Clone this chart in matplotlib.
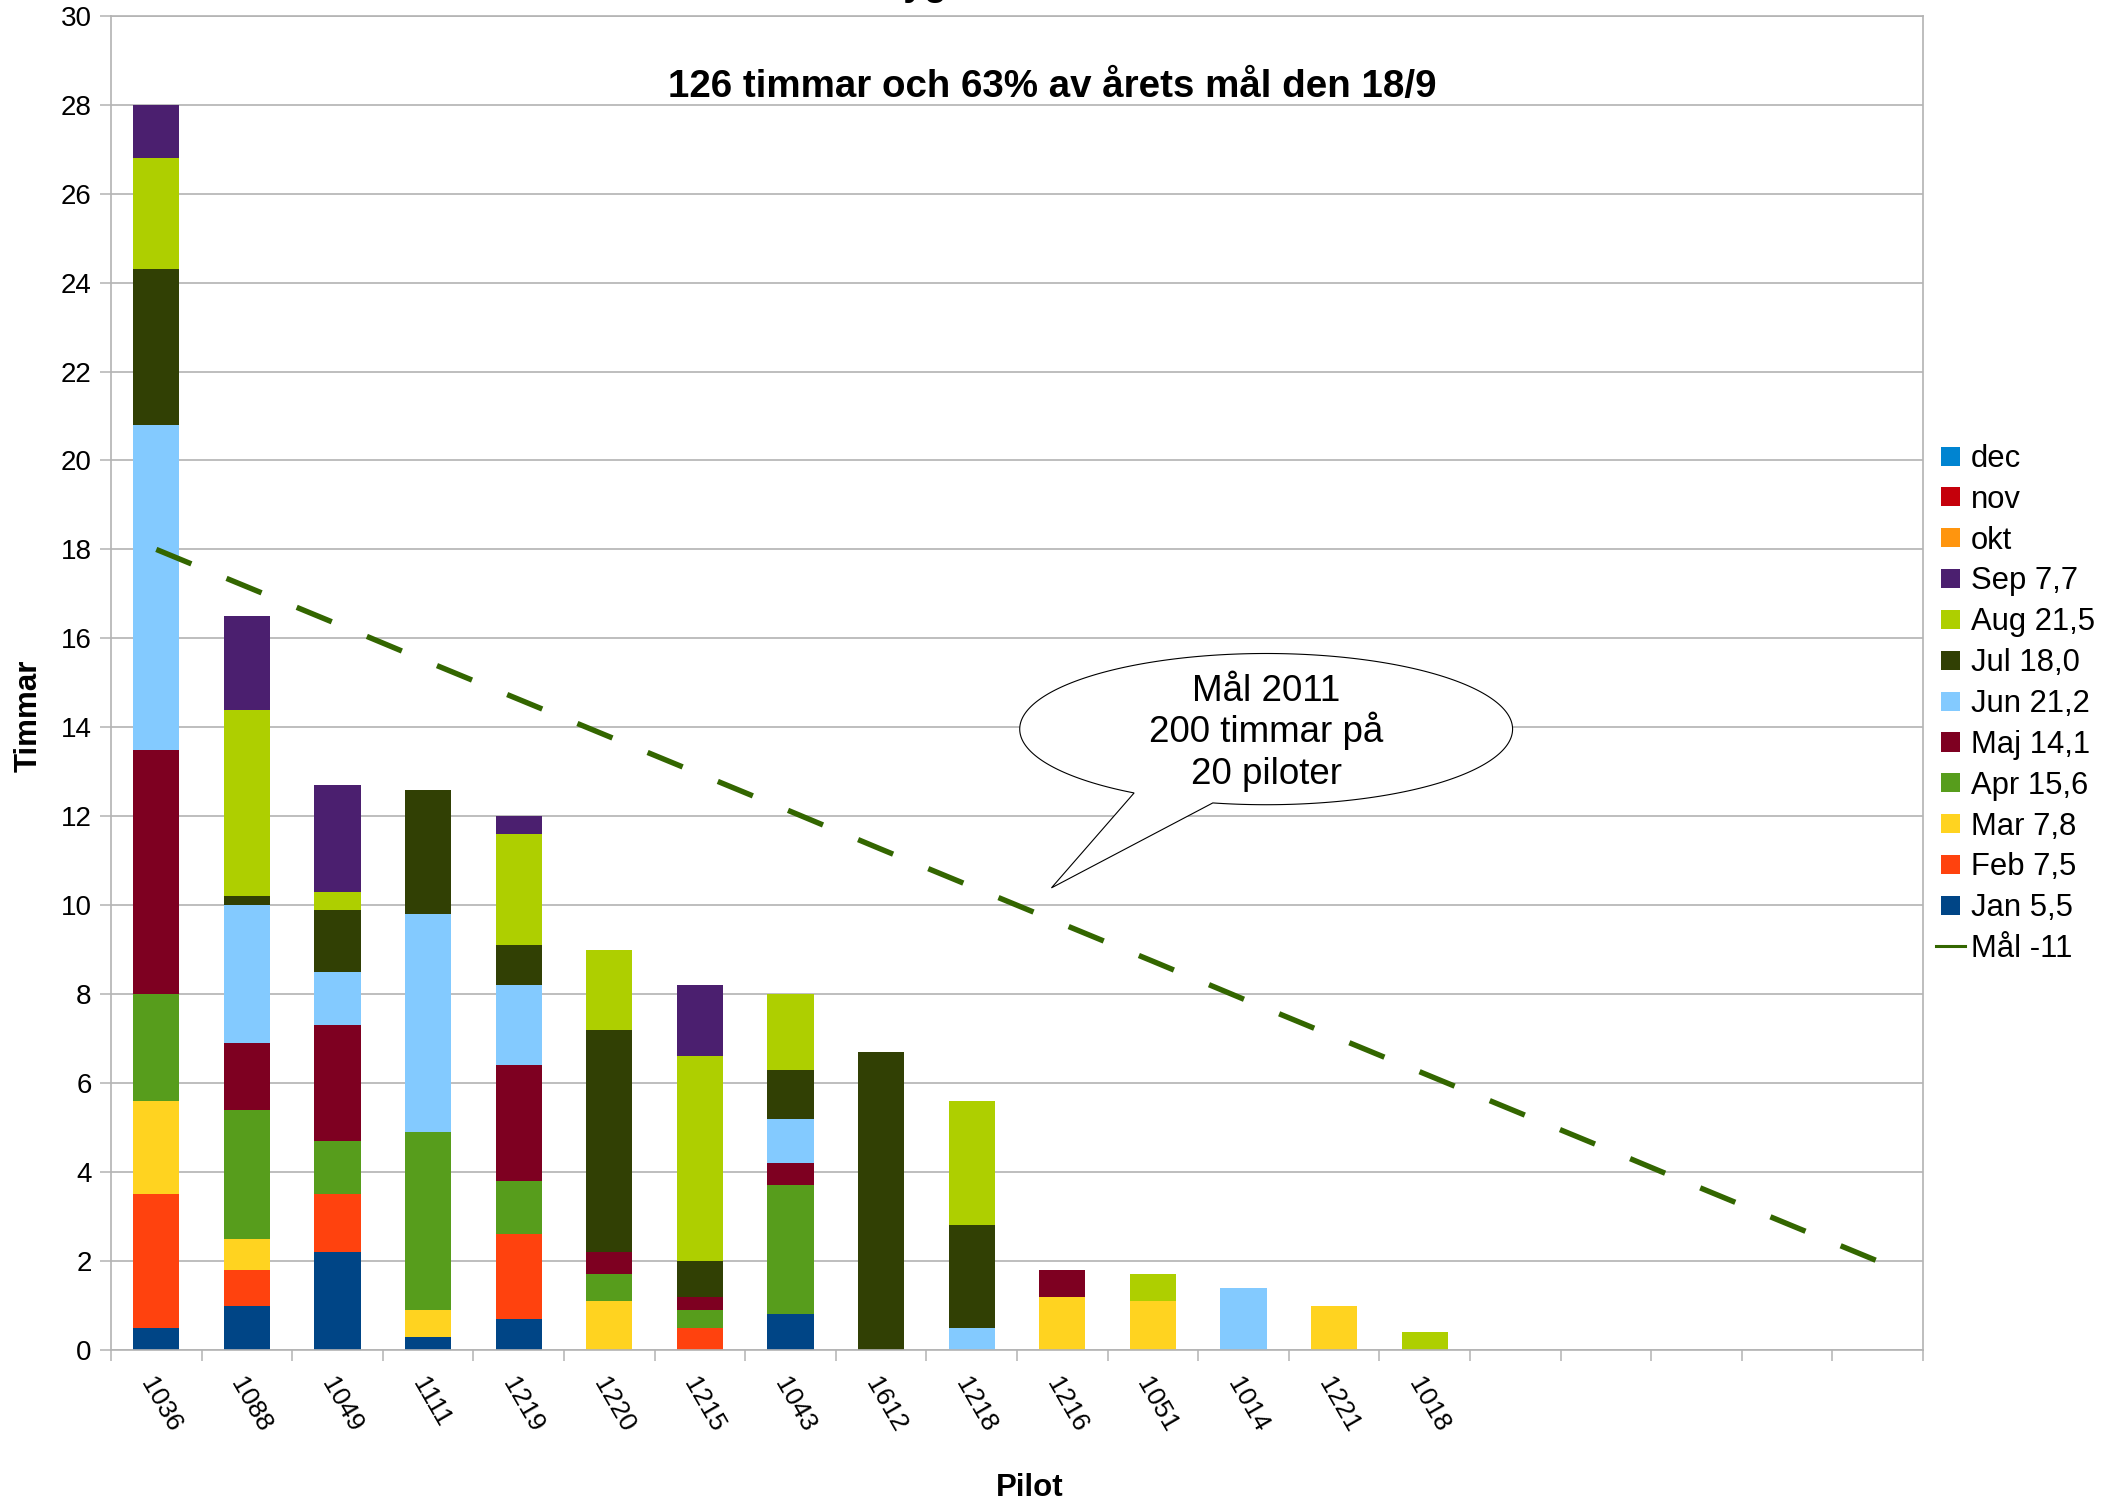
import numpy as np
import matplotlib
matplotlib.use("Agg")
import matplotlib.pyplot as plt
from matplotlib.patches import Polygon, Rectangle
from matplotlib.lines import Line2D
from matplotlib.legend_handler import HandlerPatch

plt.rcParams['font.family'] = ['Liberation Sans', 'DejaVu Sans']

# ---------------- data ----------------
pilots = ["1036", "1088", "1049", "1111", "1219", "1220", "1215", "1043", "1612", "1218",
          "1216", "1051", "1014", "1221", "1018", "", "", "", "", ""]

jan = [0.5, 1.0, 2.2, 0.3, 0.7, 0.0, 0.0, 0.8, 0.0, 0.0, 0.0, 0.0, 0.0, 0.0, 0.0, 0, 0, 0, 0, 0]
feb = [3.0, 0.8, 1.3, 0.0, 1.9, 0.0, 0.5, 0.0, 0.0, 0.0, 0.0, 0.0, 0.0, 0.0, 0.0, 0, 0, 0, 0, 0]
mar = [2.1, 0.7, 0.0, 0.6, 0.0, 1.1, 0.0, 0.0, 0.0, 0.0, 1.2, 1.1, 0.0, 1.0, 0.0, 0, 0, 0, 0, 0]
apr = [2.4, 2.9, 1.2, 4.0, 1.2, 0.6, 0.4, 2.9, 0.0, 0.0, 0.0, 0.0, 0.0, 0.0, 0.0, 0, 0, 0, 0, 0]
maj = [5.5, 1.5, 2.6, 0.0, 2.6, 0.5, 0.3, 0.5, 0.0, 0.0, 0.6, 0.0, 0.0, 0.0, 0.0, 0, 0, 0, 0, 0]
jun = [7.3, 3.1, 1.2, 4.9, 1.8, 0.0, 0.0, 1.0, 0.0, 0.5, 0.0, 0.0, 1.4, 0.0, 0.0, 0, 0, 0, 0, 0]
jul = [3.5, 0.2, 1.4, 2.8, 0.9, 5.0, 0.8, 1.1, 6.7, 2.3, 0.0, 0.0, 0.0, 0.0, 0.0, 0, 0, 0, 0, 0]
aug = [2.5, 4.2, 0.4, 0.0, 2.5, 1.8, 4.6, 1.7, 0.0, 2.8, 0.0, 0.6, 0.0, 0.0, 0.4, 0, 0, 0, 0, 0]
sep = [1.2, 2.1, 2.4, 0.0, 0.4, 0.0, 1.6, 0.0, 0.0, 0.0, 0.0, 0.0, 0.0, 0.0, 0.0, 0, 0, 0, 0, 0]
okt = [0] * 20
nov = [0] * 20
dec = [0] * 20

goal = [18.00, 17.16, 16.32, 15.47, 14.63, 13.79, 12.95, 12.11, 11.26, 10.42,
        9.58, 8.74, 7.89, 7.05, 6.21, 5.37, 4.53, 3.68, 2.84, 2.00]

series_labels = ["Jan 5,5", "Feb 7,5", "Mar 7,8", "Apr 15,6", "Maj 14,1", "Jun 21,2",
                 "Jul 18,0", "Aug 21,5", "Sep 7,7", "okt", "nov", "dec"]
goal_label = "Mål -11"
subtitle = "126 timmar och 63% av årets mål den 18/9"
title = "Flygtimmar 2011"
callout_lines = ["Mål 2011", "200 timmar på", "20 piloter"]

# ---------------- style ----------------
colors = ["#004586", "#ff420e", "#ffd320", "#579d1c", "#7e0021", "#83caff",
          "#314004", "#aecf00", "#4b1f6f", "#ff950e", "#c5000b", "#0084d1"]
goal_color = "#336600"
gray = "#b3b3b3"

W, H = 2104, 1501
fig = plt.figure(figsize=(W / 100, H / 100), dpi=100)
ax = fig.add_axes([111 / W, 1 - 1350 / H, (1923 - 111) / W, (1350 - 15.7) / H])

x = np.arange(len(pilots))
series = [jan, feb, mar, apr, maj, jun, jul, aug, sep, okt, nov, dec]
bottom = np.zeros(len(pilots))
for vals, col in zip(series, colors):
    v = np.array(vals, dtype=float)
    ax.bar(x, v, width=0.51, bottom=bottom, color=col, linewidth=0, zorder=2)
    bottom += v

ax.plot(x, goal, color=goal_color, lw=3.9, linestyle=(0, (7.0, 7.02)),
        dash_capstyle='butt', zorder=4)

# callout bubble
cx, cy, a, b = 12.25, 13.96, 2.72, 1.70
t = np.radians(np.linspace(257.5, 237.6 + 360, 300))
pts = np.column_stack([cx + a * np.cos(t), cy + b * np.sin(t)])
pts = np.vstack([pts, [[9.88, 10.39]]])
ax.add_patch(Polygon(pts, closed=True, facecolor='white', edgecolor='black',
                     lw=0.8, zorder=5))
for k, line in enumerate(callout_lines):
    ax.text(cx, 14.60 - k * 0.936, line, ha='center', va='baseline',
            fontsize=26.5, zorder=6)

ax.set_xlim(-0.5, 19.5)
ax.set_ylim(0, 30)
ax.set_yticks(np.arange(0, 31, 2))
ax.yaxis.grid(True, color=gray, lw=1.2)
ax.set_axisbelow(True)
ax.tick_params(axis='y', direction='out', length=8, width=1.1, color=gray,
               labelsize=20, pad=6)
ax.set_xticks(x)
ax.set_xticklabels(pilots, rotation=-60, ha='left', va='top',
                   rotation_mode='anchor', fontsize=19)
ax.tick_params(axis='x', which='major', length=0, pad=17)
ax.set_xticks(np.arange(-0.5, 20, 1), minor=True)
ax.tick_params(axis='x', which='minor', direction='out', length=8, width=1.1, color=gray)
for s in ax.spines.values():
    s.set_color(gray)
    s.set_linewidth(1.2)

# texts
fig.text(1017 / W, 1 + 5 / H, title, ha='center', va='baseline', fontsize=27,
         fontweight='bold')
fig.text(0.5, 1 - 96.8 / H, subtitle, ha='center', va='baseline', fontsize=27.7,
         fontweight='bold')
fig.text(29 / W, 1 - 716 / H, "Timmar", rotation=90, ha='center', va='center',
         fontsize=22.5, fontweight='bold')
fig.text(1030 / W, 1 - 1488 / H, "Pilot", ha='center', va='center',
         fontsize=22.5, fontweight='bold')

# legend
def square_func(legend, orig_handle, xdescent, ydescent, width, height, fontsize):
    s = 13.7
    return Rectangle((-xdescent + (width - s) / 2, -ydescent + (height - s) / 2), s, s)

handles = [Rectangle((0, 0), 1, 1, facecolor=c, linewidth=0) for c in colors]
handles = handles[::-1] + [Line2D([0], [0], color=goal_color, lw=2.2)]
labels = series_labels[::-1] + [goal_label]
fig.legend(handles, labels, loc='center left', bbox_to_anchor=(1936 / W, 1 - 704 / H),
           frameon=False, fontsize=22.3, handlelength=0.95, handleheight=0.7,
           handletextpad=0.17, labelspacing=0.35, borderpad=0, borderaxespad=0,
           handler_map={Rectangle: HandlerPatch(patch_func=square_func)})

fig.savefig("out.png", dpi=100)
